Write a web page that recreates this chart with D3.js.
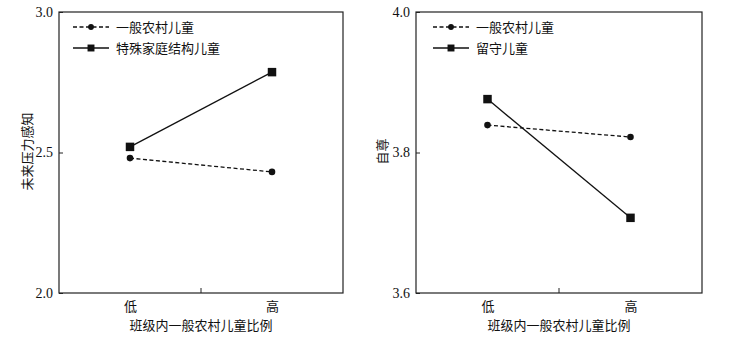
<!DOCTYPE html>
<html>
<head>
<meta charset="utf-8">
<script src="https://cdn.jsdelivr.net/npm/d3@7"></script>
<style>
  body { margin: 0; background: #fff; }
  svg text { fill: #111; }
</style>
</head>
<body>
<div id="chart"></div>
<script>
// x categories (shared by both panels)
const categories = ['低', '高'];

// left panel: 未来压力感知
const leftSeriesNames = ['一般农村儿童', '特殊家庭结构儿童'];
const leftNormal = [2.48, 2.431];
const leftSpecial = [2.52, 2.786];
const leftTicks = [2.0, 2.5, 3.0];

// right panel: 自尊
const rightSeriesNames = ['一般农村儿童', '留守儿童'];
const rightNormal = [3.839, 3.822];
const rightLeftBehind = [3.876, 3.707];
const rightTicks = [3.6, 3.8, 4.0];

const xTitle = '班级内一般农村儿童比例';
const cjk = '"Noto Sans CJK SC", "Noto Sans", sans-serif';
const serif = '"Liberation Serif", "DejaVu Serif", serif';

const svg = d3.select('#chart')
    .append('svg')
    .attr('width', 743)
    .attr('height', 340);

function drawPanel(opts) {
    const w = opts.right - opts.left;
    const h = opts.bottom - opts.top;

    const g = svg.append('g')
        .attr('transform', `translate(${opts.left},${opts.top})`);

    const x = d3.scalePoint()
        .domain(categories)
        .range([0, w])
        .padding(0.5);

    const y = d3.scaleLinear()
        .domain(opts.domain)
        .range([h, 0]);

    // y axis (ticks point inward)
    const yAxis = g.append('g')
        .call(d3.axisLeft(y).tickValues(opts.ticks).tickSize(-4).tickPadding(6).tickFormat(d3.format('.1f')));
    yAxis.select('.domain').remove();
    yAxis.selectAll('line').attr('stroke', '#222');
    yAxis.selectAll('text')
        .style('font-family', serif)
        .style('font-size', '14px');

    // x axis: category labels, one inward tick in the middle
    const xAxis = g.append('g')
        .attr('transform', `translate(0,${h})`)
        .call(d3.axisBottom(x).tickSize(0).tickPadding(9));
    xAxis.select('.domain').remove();
    xAxis.selectAll('text')
        .style('font-family', cjk)
        .style('font-size', '13px');

    g.append('line')
        .attr('x1', w / 2).attr('x2', w / 2)
        .attr('y1', h).attr('y2', h - 5)
        .attr('stroke', '#222');

    // frame
    g.append('rect')
        .attr('width', w)
        .attr('height', h)
        .attr('fill', 'none')
        .attr('stroke', '#222')
        .attr('stroke-width', 1.2);

    // axis titles
    g.append('text')
        .attr('x', w / 2)
        .attr('y', h + 37)
        .attr('text-anchor', 'middle')
        .style('font-family', cjk)
        .style('font-size', '13px')
        .text(xTitle);

    g.append('text')
        .attr('transform', 'rotate(-90)')
        .attr('x', -(h / 2) + 1)
        .attr('y', opts.yTitleX)
        .attr('text-anchor', 'middle')
        .attr('dy', '0.35em')
        .style('font-family', cjk)
        .style('font-size', '13px')
        .text(opts.yTitle);

    const line = d3.line()
        .x((d, i) => x(categories[i]))
        .y(d => y(d));

    const series = [
        {name: opts.names[0], values: opts.a, dash: '4,2.5', symbol: d3.symbolCircle, size: 34, legendSize: 26},
        {name: opts.names[1], values: opts.b, dash: null, symbol: d3.symbolSquare, size: 72, legendSize: 48}
    ];

    series.forEach(s => {
        g.append('path')
            .datum(s.values)
            .attr('d', line)
            .attr('fill', 'none')
            .attr('stroke', '#111')
            .attr('stroke-width', 1.3)
            .attr('stroke-dasharray', s.dash);

        g.selectAll(null)
            .data(s.values)
            .enter()
            .append('path')
            .attr('transform', (d, i) => `translate(${x(categories[i])},${y(d)})`)
            .attr('d', d3.symbol().type(s.symbol).size(s.size))
            .attr('fill', '#111');
    });

    // legend
    const legend = g.append('g')
        .attr('transform', `translate(${opts.legendX},15)`);

    series.forEach((s, i) => {
        const row = legend.append('g')
            .attr('transform', `translate(0,${i * 21})`);
        row.append('line')
            .attr('x1', 0).attr('x2', 36)
            .attr('stroke', '#111')
            .attr('stroke-width', 1.3)
            .attr('stroke-dasharray', s.dash);
        row.append('path')
            .attr('transform', 'translate(18,0)')
            .attr('d', d3.symbol().type(s.symbol).size(s.legendSize))
            .attr('fill', '#111');
        row.append('text')
            .attr('x', 43)
            .attr('dy', '0.35em')
            .style('font-family', cjk)
            .style('font-size', '13px')
            .text(s.name);
    });
}

drawPanel({
    left: 59, right: 343, top: 12, bottom: 293,
    domain: [2.0, 3.0], ticks: leftTicks,
    names: leftSeriesNames, a: leftNormal, b: leftSpecial,
    yTitle: '未来压力感知', yTitleX: -32, legendX: 14
});

drawPanel({
    left: 416, right: 702, top: 12, bottom: 293,
    domain: [3.6, 4.0], ticks: rightTicks,
    names: rightSeriesNames, a: rightNormal, b: rightLeftBehind,
    yTitle: '自尊', yTitleX: -34, legendX: 17
});
</script>
</body>
</html>
